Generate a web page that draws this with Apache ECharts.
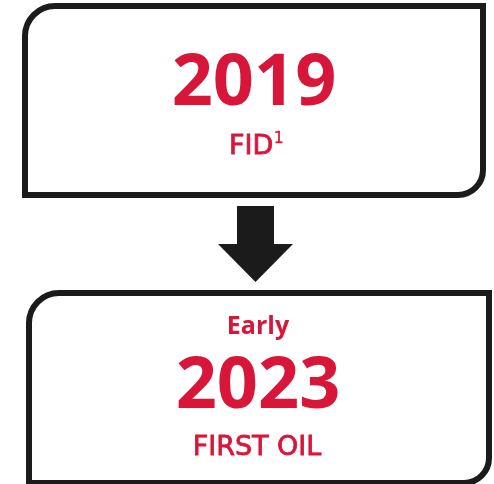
<!DOCTYPE html>
<html>
<head>
<meta charset="utf-8">
<script src="https://cdn.jsdelivr.net/npm/echarts@6/dist/echarts.min.js"></script>
<style>
html,body{margin:0;padding:0;background:#fff;}
#c{width:494px;height:484px;}
</style>
</head>
<body>
<div id="c"></div>
<script>
// Content
var years = ['2019', '2023'];
var captions = ['FID', 'FIRST OIL'];
var prefixes = ['', 'Early'];
var footnotes = ['1', ''];

var RED = '#d7163a';
var DARK = '#1b1b1b';
var FONT = '"Open Sans", sans-serif';
var CAPFONT = '"DejaVu Sans", sans-serif';

var chart = echarts.init(document.getElementById('c'), null, {renderer: 'canvas'});

var g = [];
// Top box
g.push({type: 'rect', shape: {x: 25, y: 6, width: 458, height: 189, r: [30, 0, 25, 0]},
  style: {fill: '#fff', stroke: DARK, lineWidth: 6}});
// Bottom box
g.push({type: 'rect', shape: {x: 29, y: 293, width: 460, height: 190, r: [30, 0, 25, 0]},
  style: {fill: '#fff', stroke: DARK, lineWidth: 6}});
// Arrow
g.push({type: 'polygon', shape: {points: [[237, 206], [274, 206], [274, 244], [293, 244], [255.5, 282], [218, 244], [237, 244]]},
  style: {fill: DARK}});

// Top box text
g.push({type: 'text', style: {text: years[0], x: 254, y: 84, align: 'center', verticalAlign: 'middle',
  font: 'bold 72px ' + FONT, fill: RED}});
g.push({type: 'text', style: {text: captions[0], x: 229, y: 147, align: 'left', verticalAlign: 'middle',
  font: 'normal 27px ' + CAPFONT, fill: RED, stroke: RED, lineWidth: 0.8}});
g.push({type: 'text', style: {text: footnotes[0], x: 274, y: 139, align: 'left', verticalAlign: 'middle',
  font: 'normal 15px ' + CAPFONT, fill: RED, stroke: RED, lineWidth: 0.5}});

// Bottom box text
g.push({type: 'text', style: {text: prefixes[1], x: 258, y: 327, align: 'center', verticalAlign: 'middle',
  font: 'bold 25px ' + FONT, fill: RED}});
g.push({type: 'text', style: {text: years[1], x: 258, y: 387, align: 'center', verticalAlign: 'middle',
  font: 'bold 72px ' + FONT, fill: RED}});
g.push({type: 'text', style: {text: captions[1], x: 257, y: 448, align: 'center', verticalAlign: 'middle',
  font: 'normal 27px ' + CAPFONT, fill: RED, stroke: RED, lineWidth: 0.8}});

chart.setOption({
  animation: false,
  backgroundColor: '#fff',
  graphic: {elements: g}
});
</script>
</body>
</html>
